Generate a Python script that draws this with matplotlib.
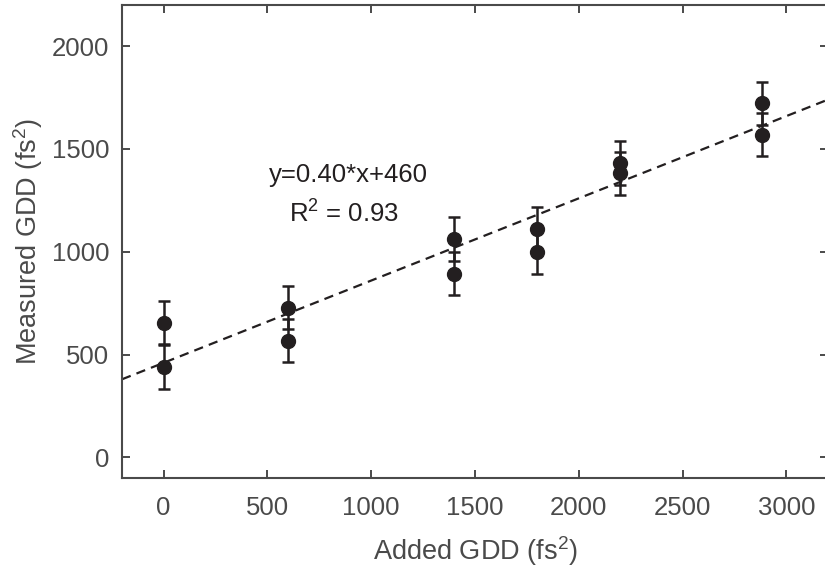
import matplotlib.pyplot as plt
import numpy as np

plt.rcParams['font.family'] = ['Liberation Sans', 'DejaVu Sans']
plt.rcParams['mathtext.fontset'] = 'custom'
plt.rcParams['mathtext.rm'] = 'Liberation Sans'

# added GDD (fs^2) and the two measurements at each setting
added_gdd = [0, 0, 600, 600, 1400, 1400, 1800, 1800, 2200, 2200, 2880, 2880]
measured_gdd = [656, 440, 729, 568, 1062, 894, 1112, 998, 1432, 1381, 1722, 1570]
gdd_err = [105, 105, 105, 105, 105, 105, 105, 105, 105, 105, 105, 105]

# linear fit given in the figure
fit_slope = 0.40
fit_offset = 460
r_squared = 0.93

gray = '#4a4a4a'
dark = '#231f20'

fig = plt.figure(figsize=(8.25, 5.71), dpi=100)
ax = fig.add_axes([122 / 825, 1 - 478 / 571, (828 - 122) / 825, (478 - 5) / 571])

ax.set_xlim(-200, 3200)
ax.set_ylim(-100, 2200)

xfit = np.array(ax.get_xlim())
ax.plot(xfit, fit_slope * xfit + fit_offset, color=dark, lw=1.6,
        dashes=(4.2, 2.8), zorder=1)

ax.errorbar(added_gdd, measured_gdd, yerr=gdd_err, fmt='o', color=dark,
            ms=10, elinewidth=1.8, capsize=4, capthick=1.8, zorder=3)

ax.text(890, 1338, 'y=0.40*x+460', ha='center', va='baseline',
        fontsize=18.5, color=dark)
ax.text(870, 1145, r'R$^{2}$ = %.2f' % r_squared, ha='center', va='baseline',
        fontsize=18.5, color=dark)

ax.set_xticks([0, 500, 1000, 1500, 2000, 2500, 3000])
ax.set_yticks([0, 500, 1000, 1500, 2000])
ax.tick_params(axis='x', pad=13)
ax.tick_params(axis='y', pad=9)
ax.tick_params(direction='in', length=6, width=1.4, colors=gray,
               labelsize=18.5, top=True, right=True)
for sp in ax.spines.values():
    sp.set_color(gray)
    sp.set_linewidth(1.5)

ax.set_xlabel('Added GDD (fs$^{2}$)', fontsize=19.5, color=gray, labelpad=10)
ax.set_ylabel('Measured GDD (fs$^{2}$)', fontsize=19.5, color=gray, labelpad=5)

fig.savefig('out.png', dpi=100)
